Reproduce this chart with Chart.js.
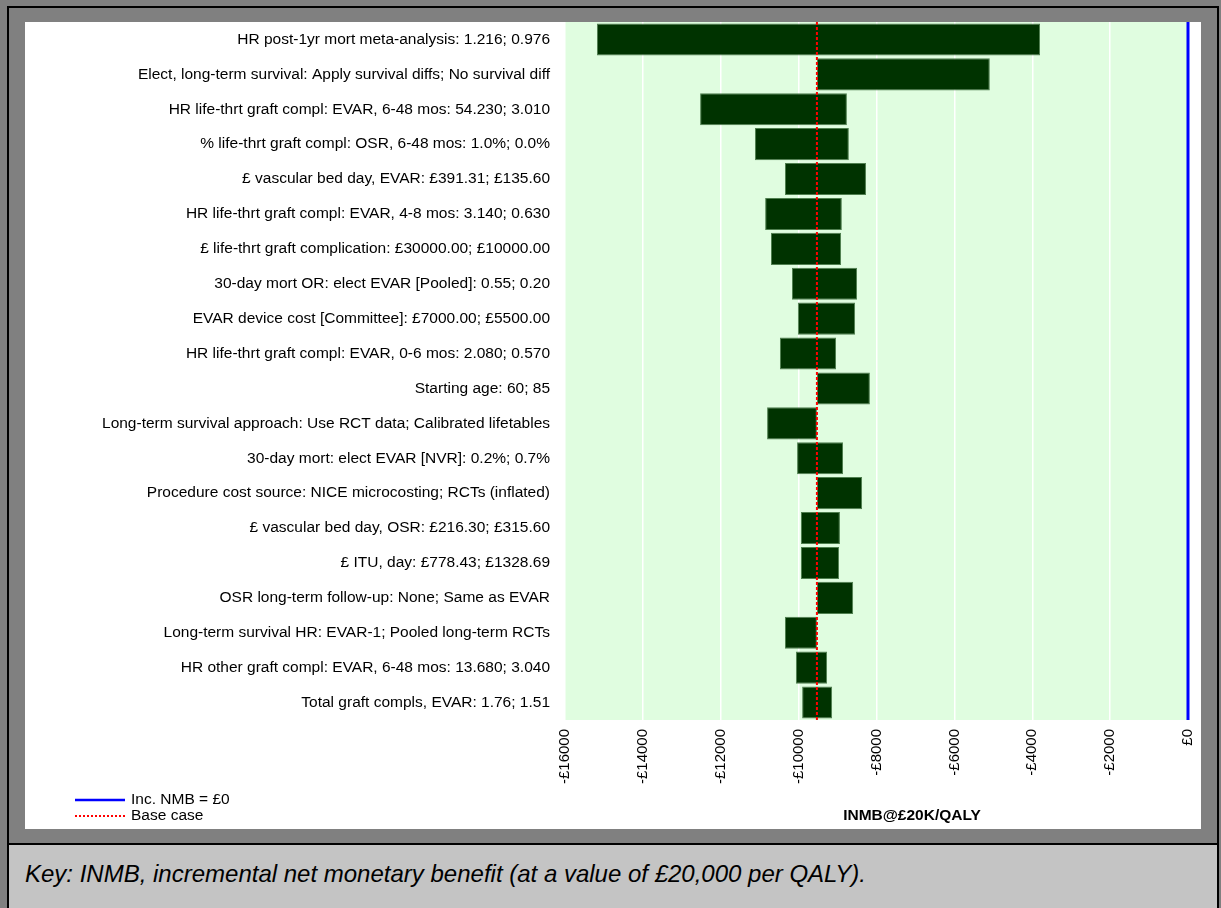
<!DOCTYPE html>
<html>
<head>
<meta charset="utf-8">
<script src="https://cdn.jsdelivr.net/npm/chart.js@4/dist/chart.umd.min.js"></script>
<style>
  html, body { margin: 0; padding: 0; }
  body { width: 1221px; height: 908px; background: #808080; position: relative; overflow: hidden; font-family: "Liberation Sans", Arial, sans-serif; }
  .rule { position: absolute; background: #000; }
  #panel { position: absolute; left: 25px; top: 22px; width: 1176px; height: 807px; background: #fff; }
  #caption { position: absolute; left: 9px; top: 845px; width: 1208px; height: 63px; background: #c4c4c4; }
  #caption span { position: absolute; left: 16px; top: 15px; font-style: italic; font-size: 24px; line-height: 28px; color: #000; white-space: nowrap; }
</style>
</head>
<body>
<div class="rule" style="left:7px; top:6px; width:1212px; height:2px;"></div>
<div class="rule" style="left:7px; top:6px; width:2px; height:902px;"></div>
<div class="rule" style="left:1217px; top:6px; width:2px; height:902px;"></div>
<div class="rule" style="left:9px; top:843px; width:1208px; height:2px;"></div>
<div id="caption"><span>Key: INMB, incremental net monetary benefit (at a value of £20,000 per QALY).</span></div>
<div id="panel"><canvas id="chart" width="1176" height="807"></canvas></div>
<script>
'use strict';

// parameters, top to bottom
const labels = [
    'HR post-1yr mort meta-analysis: 1.216; 0.976',
    'Elect, long-term survival: Apply survival diffs; No survival diff',
    'HR life-thrt graft compl: EVAR, 6-48 mos: 54.230; 3.010',
    '% life-thrt graft compl: OSR, 6-48 mos: 1.0%; 0.0%',
    '£ vascular bed day, EVAR: £391.31; £135.60',
    'HR life-thrt graft compl: EVAR, 4-8 mos: 3.140; 0.630',
    '£ life-thrt graft complication: £30000.00; £10000.00',
    '30-day mort OR: elect EVAR [Pooled]: 0.55; 0.20',
    'EVAR device cost [Committee]: £7000.00; £5500.00',
    'HR life-thrt graft compl: EVAR, 0-6 mos: 2.080; 0.570',
    'Starting age: 60; 85',
    'Long-term survival approach: Use RCT data; Calibrated lifetables',
    '30-day mort: elect EVAR [NVR]: 0.2%; 0.7%',
    'Procedure cost source: NICE microcosting; RCTs (inflated)',
    '£ vascular bed day, OSR: £216.30; £315.60',
    '£ ITU, day: £778.43; £1328.69',
    'OSR long-term follow-up: None; Same as EVAR',
    'Long-term survival HR: EVAR-1; Pooled long-term RCTs',
    'HR other graft compl: EVAR, 6-48 mos: 13.680; 3.040',
    'Total graft compls, EVAR: 1.76; 1.51'
];

const lowValues = [-15180, -9530, -12530, -11120, -10350, -10860, -10710, -10170, -10020, -10480,
    -9530, -10810, -10040, -9530, -9940, -9940, -9530, -10350, -10070, -9910];
const highValues = [-3800, -5090, -8760, -8710, -8270, -8890, -8910, -8500, -8550, -9040,
    -8170, -9530, -8860, -8370, -8940, -8960, -8600, -9530, -9270, -9140];

const baseCase = -9530;
const breakEven = 0;
const axisMin = -16000;
const axisMax = 0;
const axisStep = 2000;
const axisTitle = 'INMB@£20K/QALY';
const legendItems = ['Inc. NMB = £0', 'Base case'];

const FONT = '"Liberation Sans", Arial, sans-serif';

const fmtMoney = v => (v < 0 ? '-£' : '£') + Math.abs(v);

// keep the plot box where the reference has it
const fixBox = (prop, size) => scale => {
    scale[prop] = size;
    scale.paddingLeft = scale.paddingRight = scale.paddingTop = scale.paddingBottom = 0;
};

const decor = {
    id: 'decor',
    beforeDraw(chart) {
        const { ctx, chartArea: a } = chart;
        ctx.save();
        ctx.fillStyle = '#e0fde0';
        ctx.fillRect(a.left, a.top, a.right - a.left, a.bottom - a.top);
        ctx.restore();
    },
    afterDatasetsDraw(chart) {
        const { ctx, chartArea: a, scales } = chart;
        const xb = scales.x.getPixelForValue(baseCase);
        const x0 = scales.x.getPixelForValue(breakEven);
        ctx.save();
        ctx.strokeStyle = '#ff0000';
        ctx.lineWidth = 2;
        ctx.setLineDash([3, 2]);
        ctx.beginPath();
        ctx.moveTo(xb, a.top);
        ctx.lineTo(xb, a.bottom);
        ctx.stroke();
        ctx.setLineDash([]);
        ctx.strokeStyle = '#0000ff';
        ctx.lineWidth = 3;
        ctx.beginPath();
        ctx.moveTo(x0, a.top);
        ctx.lineTo(x0, a.bottom);
        ctx.stroke();
        ctx.restore();
    },
    afterDraw(chart) {
        const { ctx } = chart;
        ctx.save();
        ctx.fillStyle = '#000';
        ctx.font = 'bold 15.5px ' + FONT;
        ctx.textAlign = 'center';
        ctx.textBaseline = 'middle';
        ctx.fillText(axisTitle, 887, 794);

        // legend
        ctx.font = '15.5px ' + FONT;
        ctx.textAlign = 'left';
        ctx.strokeStyle = '#0000ff';
        ctx.lineWidth = 2.5;
        ctx.beginPath();
        ctx.moveTo(50, 778);
        ctx.lineTo(100, 778);
        ctx.stroke();
        ctx.fillText(legendItems[0], 106, 778);
        ctx.strokeStyle = '#ff0000';
        ctx.lineWidth = 2;
        ctx.setLineDash([2, 2]);
        ctx.beginPath();
        ctx.moveTo(50, 794);
        ctx.lineTo(100, 794);
        ctx.stroke();
        ctx.fillText(legendItems[1], 106, 794);
        ctx.restore();
    }
};

new Chart(document.getElementById('chart'), {
    type: 'bar',
    data: {
        labels: labels,
        datasets: [{
            data: labels.map((_, i) => [lowValues[i], highValues[i]]),
            backgroundColor: '#003300',
            borderColor: '#4f7f4f',
            borderWidth: 1,
            borderSkipped: false,
            barPercentage: 0.92,
            categoryPercentage: 1
        }]
    },
    options: {
        indexAxis: 'y',
        responsive: false,
        animation: false,
        layout: { padding: { left: 0, right: 13, top: 0, bottom: 0 } },
        plugins: { legend: { display: false }, tooltip: { enabled: false } },
        scales: {
            x: {
                min: axisMin,
                max: axisMax,
                border: { display: false },
                grid: { color: '#ffffff', lineWidth: 1.5, drawTicks: false },
                ticks: {
                    stepSize: axisStep,
                    minRotation: 90,
                    maxRotation: 90,
                    padding: 9,
                    color: '#000',
                    font: { family: FONT, size: 15 },
                    callback: v => fmtMoney(v)
                },
                afterFit: fixBox('height', 109)
            },
            y: {
                border: { display: false },
                grid: { display: false, drawTicks: false },
                ticks: {
                    padding: 15,
                    color: '#000',
                    font: { family: FONT, size: 15.5 },
                    autoSkip: false
                },
                afterFit: fixBox('width', 540)
            }
        }
    },
    plugins: [decor]
});
</script>
</body>
</html>
